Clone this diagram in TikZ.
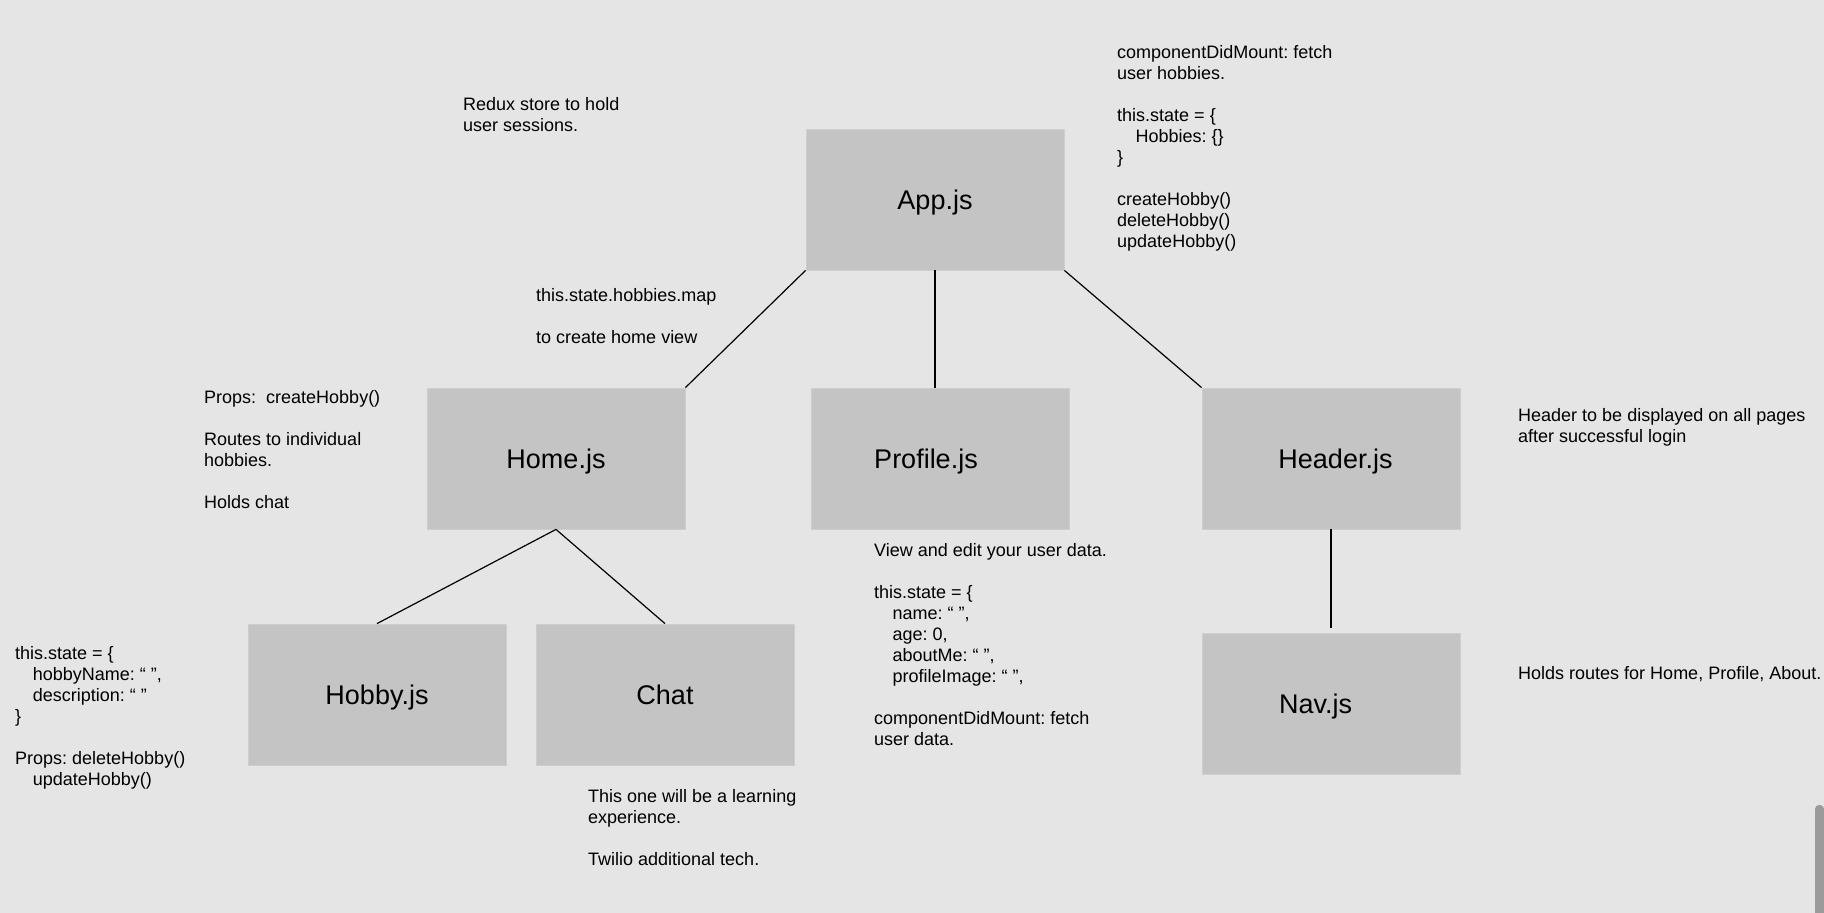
\documentclass[tikz,border=0pt]{standalone}
\usepackage{fontspec}
\setmainfont{Liberation Sans}
\definecolor{bgc}{RGB}{229,229,229}
\definecolor{boxc}{RGB}{196,196,196}
\definecolor{boxedge}{RGB}{206,206,206}
\definecolor{barc}{RGB}{155,155,155}
\frenchspacing
\tikzset{
  comp/.style={draw=boxedge, line width=0.8pt, fill=boxc, minimum width=258pt,
    minimum height=141pt, inner sep=0pt, font=\fontsize{27}{32}\selectfont,
    text height=19.3pt, text depth=0pt},
  note/.style={anchor=north west, inner sep=0pt, align=left,
    font=\fontsize{18}{21}\selectfont},
  link/.style={line width=1.2pt, black},
}
\begin{document}
\begin{tikzpicture}[x=1pt,y=-1pt]
\fill[bgc] (0,0) rectangle (1824,913);
\useasboundingbox (0,0) rectangle (1824,913);

% component boxes
\node[comp] (app) at (935,199.5) {App.js};
\node[comp] (home) at (556,458.5) {Home.js};
\node[comp] (profile) at (940,458.5) {Profile.js\hspace*{28pt}};
\node[comp] (header) at (1331,458.5) {\hspace*{9pt}Header.js};
\node[comp] (hobby) at (377,694.5) {Hobby.js};
\node[comp] (chat) at (665,694.5) {Chat};
\node[comp] (nav) at (1331,703.5) {Nav.js\hspace*{31pt}};

% notes
\node[note] (redux) at (463,95.3) {\strut Redux store to hold\\user sessions.};
\node[note] (map) at (536,287) {\strut this.state.hobbies.map\\ \\to create home view};
\node[note] (homenote) at (204,388.3) {\strut Props:\ \ createHobby()\\ \\Routes to individual\\hobbies.\\ \\Holds chat};
\node[note] (appnote) at (1117,43.6) {\strut componentDidMount: fetch\\user hobbies.\\ \\this.state = \{\\\hspace*{18.5pt}Hobbies: \{\}\\\}\\ \\createHobby()\\deleteHobby()\\updateHobby()};
\node[note] (hobbynote) at (15,644.6) {\strut this.state = \{\\\hspace*{17.7pt}hobbyName: “ ”,\\\hspace*{17.7pt}description: “ ”\\\}\\ \\Props: deleteHobby()\\\hspace*{17.7pt}updateHobby()};
\node[note] (profilenote) at (874,542) {\strut View and edit your user data.\\ \\this.state = \{\\\hspace*{18.3pt}name: “ ”,\\\hspace*{18.3pt}age: 0,\\\hspace*{18.3pt}aboutMe: “ ”,\\\hspace*{18.3pt}profileImage: “ ”,\\ \\componentDidMount: fetch\\user data.};
\node[note] (chatnote) at (588,788) {\strut This one will be a learning\\experience.\\ \\Twilio additional tech.};
\node[note] (headernote) at (1518,407) {\strut Header to be displayed on all pages\\after successful login};
\node[note] (navnote) at (1518,664.6) {\strut Holds routes for Home, Profile, About.};

% connectors
\draw[link] (app.south west) -- (home.north east);
\draw[link] (app.south) -- (app.south |- profile.north);
\draw[link] (app.south east) -- (header.north west);
\draw[link] (home.south) -- (hobby.north);
\draw[link] (home.south) -- (chat.north);
\draw[link, shorten >=5pt] (header.south) -- (nav.north);

% scroll bar
\fill[barc, rounded corners=4pt] (1815,913) -- (1815,805) -- (1824,805) -- (1824,913);
\end{tikzpicture}
\end{document}
